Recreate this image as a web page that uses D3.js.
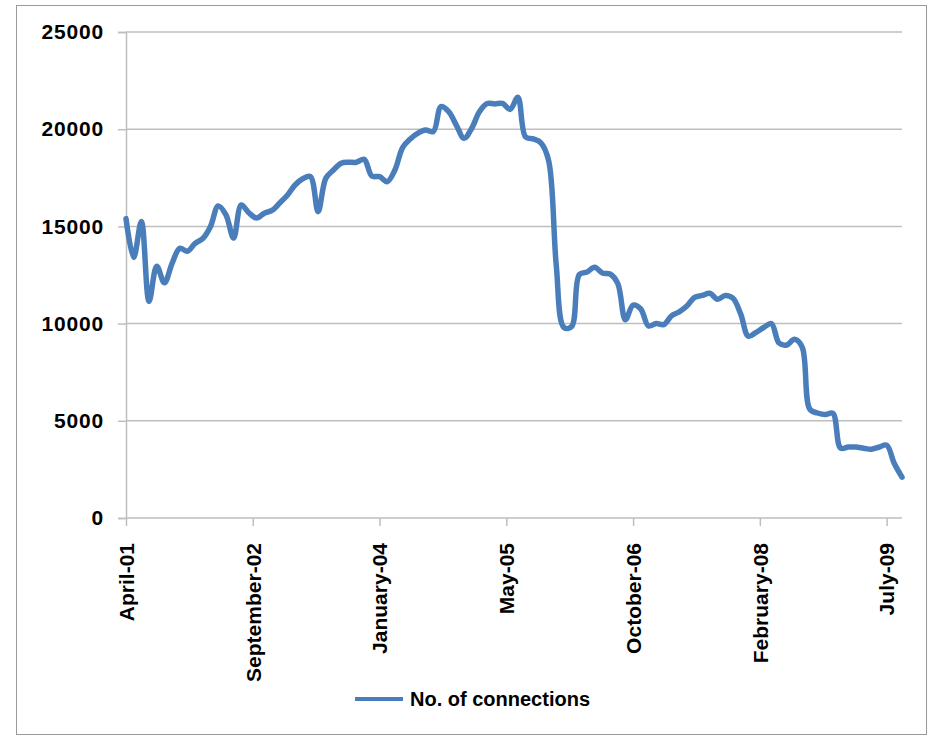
<!DOCTYPE html>
<html>
<head>
<meta charset="utf-8">
<script src="https://cdn.jsdelivr.net/npm/d3@7"></script>
<style>
  html, body { margin: 0; padding: 0; background: #ffffff; }
  svg { display: block; }
  text { font-family: "Liberation Sans", Arial, sans-serif; }
</style>
</head>
<body>
<script>
// ---- data (monthly, April 2001 .. September 2009) ----
const monthIndex = d3.range(102);
const connections = [
  15400, 13400, 15250, 11150, 12950, 12100, 13100, 13870, 13720, 14130,
  14380, 15000, 16050, 15600, 14400, 16100, 15700, 15430, 15680, 15820,
  16200, 16600, 17130, 17450, 17560, 15760, 17470, 17900, 18250, 18300,
  18300, 18450, 17590, 17560, 17300, 17900, 19050, 19500, 19800, 19960,
  19880, 21160, 20900, 20200, 19530, 20050, 20900, 21320, 21300, 21330,
  21020, 21640, 19600, 19500, 19300, 18400, 13000, 9800, 9850, 12520,
  12650, 12900, 12600, 12550, 12070, 10200, 10950, 10750, 9880, 10000,
  9950, 10400, 10600, 10900, 11350, 11450, 11560, 11250, 11450, 11300,
  10500, 9350, 9550, 9800, 10000, 9000, 8900, 9190, 8800, 5600,
  5400, 5320, 5390, 3600, 3650, 3650, 3590, 3540, 3640, 3750,
  2800, 2100
];
const xTickPositions = [0, 16.5, 33, 49.5, 66, 82.5, 99];
const xTickLabels = ["April-01", "September-02", "January-04", "May-05", "October-06", "February-08", "July-09"];
const yTicks = [0, 5000, 10000, 15000, 20000, 25000];
const seriesName = "No. of connections";

// ---- layout ----
const W = 928, H = 736;
const plot = { left: 126, right: 902, top: 32, bottom: 518 };
const lineColor = "#4A7EBB";
const gridColor = "#BEBEBE";

const svg = d3.select("body").append("svg")
  .attr("width", W).attr("height", H);

svg.append("rect")
  .attr("x", 16.5).attr("y", 5.5)
  .attr("width", 910).attr("height", 729)
  .attr("fill", "#fff")
  .attr("stroke", "#9a9a9a").attr("stroke-width", 1);

const x = d3.scaleLinear().domain([0, 101]).range([plot.left, plot.right]);
const y = d3.scaleLinear().domain([0, 25000]).range([plot.bottom, plot.top]);

// gridlines
svg.append("g").selectAll("line")
  .data(yTicks.filter(d => d > 0))
  .join("line")
  .attr("x1", plot.left).attr("x2", plot.right)
  .attr("y1", d => y(d)).attr("y2", d => y(d))
  .attr("stroke", gridColor).attr("stroke-width", 1.5);

// y axis
const yAxis = svg.append("g")
  .attr("transform", `translate(${plot.left},0)`)
  .call(d3.axisLeft(y).tickValues(yTicks).tickSize(8).tickPadding(14).tickFormat(d3.format("d")));
yAxis.select(".domain").attr("stroke", gridColor).attr("stroke-width", 1.5);
yAxis.selectAll(".tick line").attr("stroke", gridColor).attr("stroke-width", 1.5);
yAxis.selectAll(".tick text")
  .attr("fill", "#000")
  .style("font-size", "21px").style("font-weight", "bold")
  .style("letter-spacing", "0.8px");

// x axis
const xAxis = svg.append("g")
  .attr("transform", `translate(0,${plot.bottom})`)
  .call(d3.axisBottom(x).tickValues(xTickPositions).tickSize(8)
    .tickFormat((d, i) => xTickLabels[i]));
xAxis.select(".domain").attr("stroke", gridColor).attr("stroke-width", 1.5)
  .attr("d", `M${plot.left},0H${plot.right}`);
xAxis.selectAll(".tick line").attr("stroke", gridColor).attr("stroke-width", 1.5);
xAxis.selectAll(".tick text")
  .attr("fill", "#000")
  .attr("transform", "rotate(-90)")
  .attr("text-anchor", "end")
  .attr("x", -25).attr("y", 0).attr("dy", "0.35em")
  .style("font-size", "21px").style("font-weight", "bold");

// line
const line = d3.line()
  .x((d, i) => x(monthIndex[i]))
  .y(d => y(d))
  .curve(d3.curveCatmullRom.alpha(0.5));

svg.append("path")
  .datum(connections)
  .attr("fill", "none")
  .attr("stroke", lineColor)
  .attr("stroke-width", 5.5)
  .attr("stroke-linejoin", "round")
  .attr("stroke-linecap", "round")
  .attr("d", line);

// legend
const lg = svg.append("g").attr("transform", "translate(355,699)");
lg.append("line").attr("x1", 0).attr("x2", 48).attr("y1", 0).attr("y2", 0)
  .attr("stroke", lineColor).attr("stroke-width", 4);
lg.append("text").attr("x", 55).attr("y", 0).attr("dy", "0.35em")
  .style("font-size", "20px").style("font-weight", "bold")
  .attr("fill", "#000")
  .text(seriesName);
</script>
</body>
</html>
